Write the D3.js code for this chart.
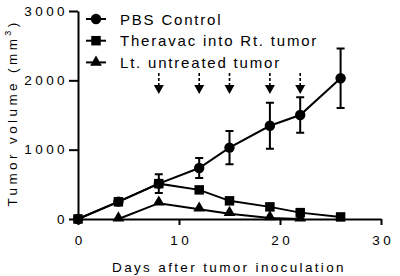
<!DOCTYPE html>
<html>
<head>
<meta charset="utf-8">
<script src="https://cdn.jsdelivr.net/npm/d3@7"></script>
<style>
  body { margin: 0; background: #fff; }
  text { font-family: "Liberation Sans", Arial, sans-serif; fill: #000; }
</style>
</head>
<body>
<div id="chart"></div>
<script>
// data
const days = [0, 4, 8, 12, 15, 19, 22, 26]
const pbsMean = [0, 250, 510, 735, 1030, 1345, 1500, 2030]
const pbsErr = [0, 0, 135, 145, 240, 330, 255, 430]
const theraDays = [0, 4, 8, 12, 15, 19, 22, 26]
const theraMean = [0, 248, 510, 420, 262, 175, 92, 30]
const theraErr = [0, 30, 30, 25, 25, 40, 20, 0]
const ltDays = [4, 8, 12, 15, 19, 22]
const ltMean = [0, 228, 141, 77, 15, 0]
const arrowDays = [8, 12, 15, 19, 22]
const legendNames = ["PBS Control", "Theravac into Rt. tumor", "Lt. untreated tumor"]
const xTicks = [0, 10, 20, 30]
const yTicks = [0, 1000, 2000, 3000]

const config = { width: 400, height: 276, left: 78, top: 11, right: 381, bottom: 219 }

const svg = d3.select('#chart').append('svg')
    .attr('width', config.width)
    .attr('height', config.height)

const x = d3.scaleLinear().domain([0, 30]).range([config.left, config.right])
const y = d3.scaleLinear().domain([0, 3000]).range([config.bottom, config.top])

// axes
const xAxis = svg.append('g')
    .attr('transform', `translate(0,${config.bottom})`)
    .call(d3.axisBottom(x).tickValues(xTicks).tickFormat(d3.format('d'))
        .tickSize(6).tickSizeOuter(0).tickPadding(10))
const yAxis = svg.append('g')
    .attr('transform', `translate(${config.left},0)`)
    .call(d3.axisLeft(y).tickValues(yTicks).tickFormat(d3.format('d'))
        .tickSize(9).tickSizeOuter(0).tickPadding(1))
;[xAxis, yAxis].forEach(a => {
    a.selectAll('path, line').attr('stroke', '#000').attr('stroke-width', 2)
    a.selectAll('text').attr('font-size', 13.5).attr('letter-spacing', 3.4)
        .style('font-family', '"Liberation Sans", Arial, sans-serif')
})
// centre x labels despite trailing letter spacing
xAxis.selectAll('text').attr('dx', 1.7)

// axis titles
svg.append('text')
    .attr('x', 229).attr('y', 272)
    .attr('text-anchor', 'middle')
    .attr('font-size', 13.5).attr('letter-spacing', 2.35)
    .text('Days after tumor inoculation')
const yl = svg.append('text')
    .attr('transform', 'translate(17,113) rotate(-90)')
    .attr('text-anchor', 'middle')
    .attr('font-size', 13.5).attr('letter-spacing', 3.4)
yl.append('tspan').text('Tumor volume (mm')
yl.append('tspan').attr('font-size', 9).attr('dy', -6).text('3')
yl.append('tspan').attr('dy', 6).text(')')

// treatment arrows
const arrows = svg.append('g')
arrowDays.forEach(d => {
    arrows.append('line')
        .attr('x1', x(d)).attr('x2', x(d))
        .attr('y1', 73).attr('y2', 86)
        .attr('stroke', '#000').attr('stroke-width', 1.6)
        .attr('stroke-dasharray', '3,2')
    arrows.append('path')
        .attr('d', `M${x(d) - 5},85 L${x(d) + 5},85 L${x(d)},94 Z`)
        .attr('fill', '#000')
})

const line = d3.line().x(p => x(p[0])).y(p => y(p[1]))

const series = [
    { name: legendNames[0], days: days, mean: pbsMean, err: pbsErr, shape: d3.symbolCircle, size: 85 },
    { name: legendNames[1], days: theraDays, mean: theraMean, err: theraErr, shape: d3.symbolSquare, size: 90 },
    { name: legendNames[2], days: ltDays, mean: ltMean, err: null, shape: d3.symbolTriangle, size: 60 }
]

// draw bottom to top: Lt, Theravac, PBS
series.slice().reverse().forEach(s => {
    const g = svg.append('g')
    const pts = s.days.map((d, i) => [d, s.mean[i]])
    g.append('path')
        .attr('d', line(pts))
        .attr('fill', 'none').attr('stroke', '#000').attr('stroke-width', 2)
    if (s.err) {
        s.days.forEach((d, i) => {
            if (!s.err[i]) return
            const cx = x(d), y1 = y(s.mean[i] + s.err[i]), y2 = y(s.mean[i] - s.err[i])
            g.append('path')
                .attr('d', `M${cx},${y1}V${y2}M${cx - 4},${y1}H${cx + 4}M${cx - 4},${y2}H${cx + 4}`)
                .attr('stroke', '#000').attr('stroke-width', 2).attr('fill', 'none')
        })
    }
    g.selectAll('path.m').data(pts).enter().append('path')
        .attr('class', 'm')
        .attr('d', d3.symbol().type(s.shape).size(s.size))
        .attr('transform', p => `translate(${x(p[0])},${y(p[1]) + (s.shape === d3.symbolTriangle ? -1 : 0)})`)
        .attr('fill', '#000')
})

// legend
series.forEach((s, i) => {
    const ly = 19 + i * 21.7
    svg.append('line')
        .attr('x1', 86).attr('x2', 106).attr('y1', ly).attr('y2', ly)
        .attr('stroke', '#000').attr('stroke-width', 2)
    svg.append('path')
        .attr('d', d3.symbol().type(s.shape).size(s.size))
        .attr('transform', `translate(96,${ly})`)
        .attr('fill', '#000')
    svg.append('text')
        .attr('x', 120).attr('y', ly + 5.5)
        .attr('font-size', 15).attr('letter-spacing', 1.8)
        .text(s.name)
})
</script>
</body>
</html>
